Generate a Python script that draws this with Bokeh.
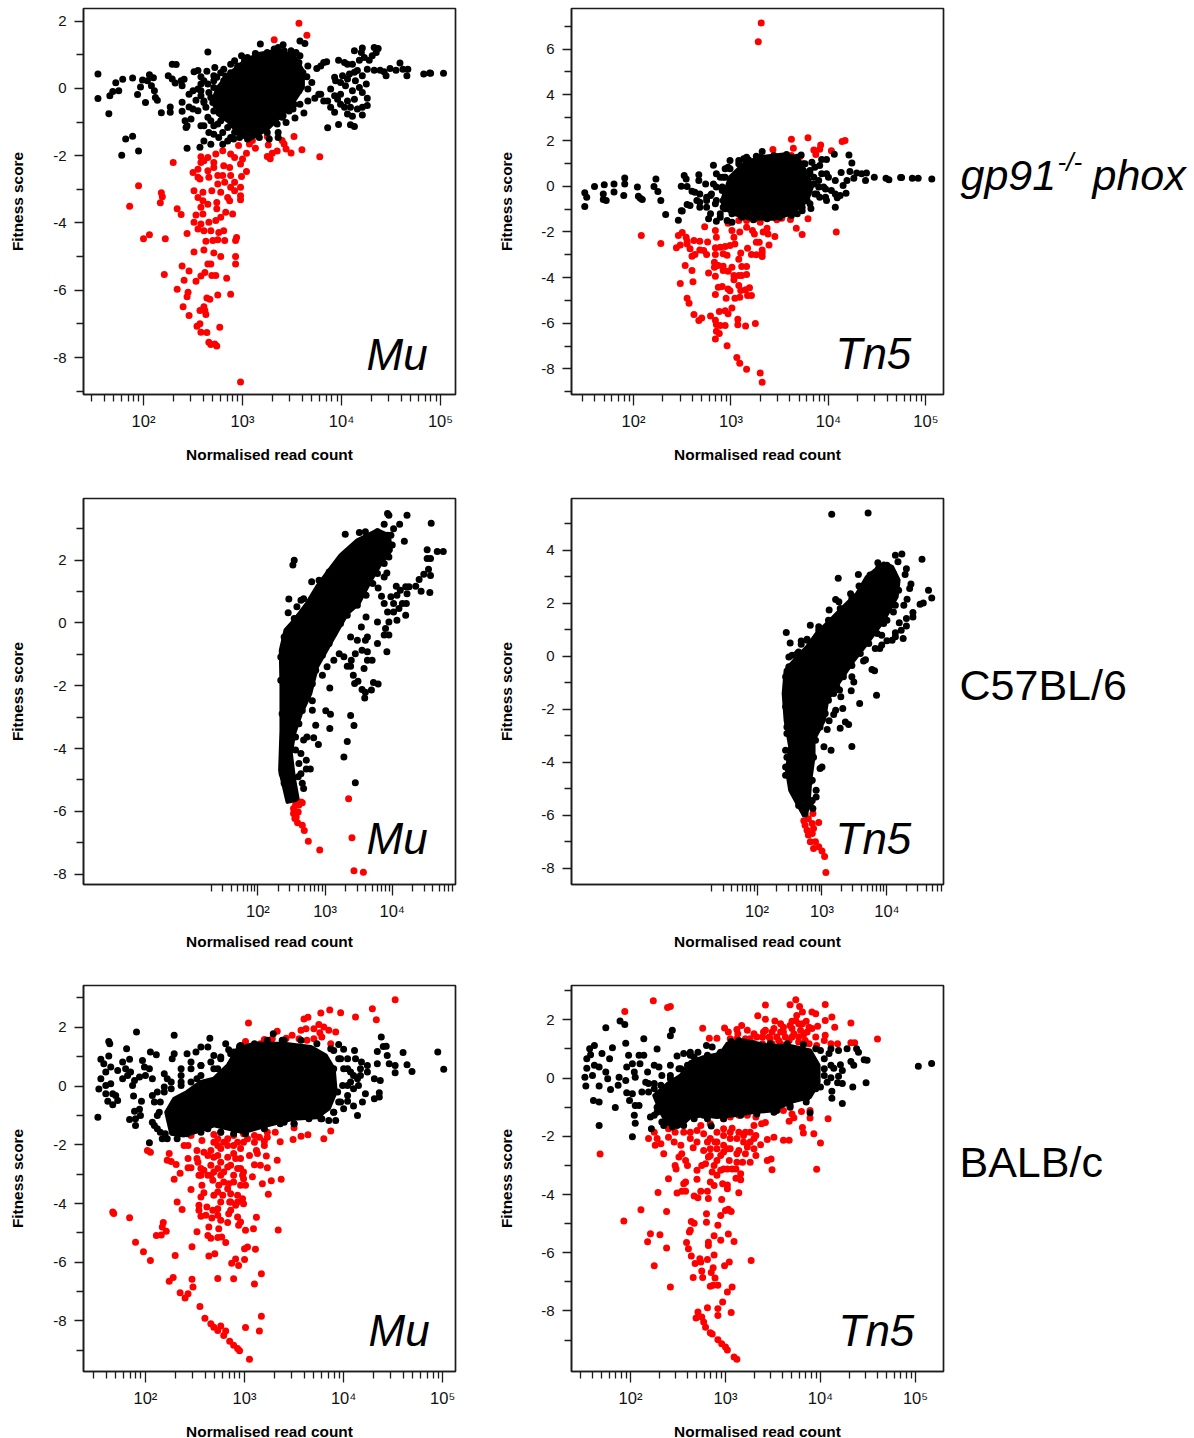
from bokeh.plotting import figure
from bokeh.layouts import column, row
from bokeh.models import FixedTicker, Label, Range1d
from bokeh.embed import file_html
from bokeh.resources import INLINE

# Every pair is (log10 normalised read count, fitness score).
# *_core is the outline of the saturated part of each cloud; *_edge are points along its rim.
gp91_mu_core = [(2.70,-.37),(2.75,.03),(2.85,.38),(2.98,.72),(3.15,1.02),(3.35,1.12),(3.52,.97),(3.61,.52),(3.61,.03),(3.52,-.37),(3.39,-.81),(3.25,-1.21),(3.08,-1.5),(2.98,-1.41),(2.85,-.96),(2.75,-.76)]
gp91_mu_edge = [(2.75,-.47),(2.78,-.07),(2.81,.23),(2.88,.47),(2.95,.67),(3.05,.92),(3.13,1.04),(3.25,1.07),(3.32,1.17),(3.42,1.12),(3.49,.97),(3.57,.77),(3.61,.47),(3.57,-.07),(3.52,-.47),(3.47,-.67),(3.4,-.86),(3.35,-1.06),(3.25,-1.31),(3.17,-1.46),(3.05,-1.5),(2.97,-1.46),(2.92,-1.31),(2.85,-1.16),(2.78,-.96),(2.71,-.67),(2.7,-.42),(2.66,-.12),(2.71,.23),(2.78,.47),(2.83,.37),(2.92,.82),(3.02,.82),(2.65,-.86),(2.75,-1.06),(2.8,-1.31),(2.88,-1.46),(2.61,-.42),(2.58,-.07),(2.65,.13),(2.71,.38)]
gp91_mu_black = [(1.54,.43),(1.54,-.30),(1.65,-.75),(1.66,-.22),(1.69,-.09),(1.72,.17),(1.75,-.07),(1.79,.27),(1.89,.31),(1.94,-.18),(1.97,.04),(1.99,.25),(2.02,-.42),(2.06,.41),(2.04,.23),(2.10,.32),(2.08,.08),(2.11,-.07),(2.12,-.27),(2.14,-.35),(2.18,-.72),(2.27,-.71),(2.27,-.55),(2.25,.38),(2.29,.28),(2.32,.16),(2.29,.72),(2.33,.71),(2.38,.23),(2.41,.27),(2.39,.08),(2.39,-.41),(2.39,-.68),(2.46,-.55),(2.46,-.17),(2.51,.5),(2.55,.53),(2.58,.35),(2.64,.51),(2.61,.23),(2.58,.13),(2.5,-.07),(2.55,-.02),(2.58,-.22),(2.53,-.35),(2.61,-.37),(2.63,-.56),(2.55,-.66),(2.5,-.61),(2.42,-.96),(2.44,-1.11),(2.48,-.91),(2.43,-1.16),(2.65,1.08),(2.72,.62),(2.68,-.96),(2.61,-1.11),(2.58,-1.11),(2.71,-1.11),(2.66,-1.31),(2.71,-1.36),(2.61,-1.56),(2.57,-1.75),(2.44,-1.78),(2.68,-1.66),(2.8,-1.66),(2.85,-1.56),(2.91,-1.5),(2.76,-1.46),(2.88,.72),(2.99,.97),(2.81,.57),(2.74,.33),(2.71,.03),(2.68,-.27),(3.18,1.32),(3.41,1.3),(3.36,1.22),(3.49,1.12),(3.54,1.07),(3.58,.97),(3.58,1.41),(3.63,1.34),(3.66,.67),(3.65,.35),(3.7,.18),(3.66,-.02),(3.66,-.37),(3.62,-.73),(3.53,-.88),(3.44,-1.01),(3.41,-.81),(3.51,-.61),(3.58,-.47),(3.36,-1.31),(3.27,-1.5),(3.36,-1.46),(3.73,-.29),(3.77,-.17),(3.75,.59),(3.79,.67),(3.82,.77),(3.85,.79),(3.97,.84),(4.03,.77),(4.06,.72),(4.11,.72),(4.13,1.12),(4.21,1.2),(4.2,1.07),(4.18,.84),(4.23,.92),(4.28,.84),(4.33,1.22),(4.37,1.19),(4.35,1.07),(4.31,.97),(4.26,.57),(4.33,.54),(4.39,.54),(4.43,.5),(4.45,.38),(4.49,.59),(4.55,.54),(4.59,.76),(4.62,.57),(4.67,.57),(4.66,.38),(4.83,.43),(4.89,.46),(4.9,.45),(5.03,.45),(3.93,.33),(3.94,.23),(4.01,.38),(3.99,.18),(4.08,.43),(4.13,.48),(4.06,.28),(4.04,.08),(4.16,.53),(4.14,.23),(4.21,.38),(4.25,.13),(4.18,.03),(4.11,-.07),(3.99,-.17),(3.89,-.02),(3.86,-.37),(3.93,-.22),(3.96,-.32),(4.06,-.37),(4.13,-.32),(4.21,-.12),(4.26,-.29),(4.26,-.51),(4.21,-.56),(4.16,-.61),(4.09,-.56),(4.03,-.56),(3.99,-.47),(3.89,-.56),(3.93,-.71),(4.06,-.76),(4.11,-.83),(4.21,-.79),(4.09,-1.08),(4.13,-1.13),(3.97,-1.07),(3.86,-1.17),(3.82,-.37),(3.79,-.17),(1.82,-1.5),(1.89,-1.42),(1.78,-1.99),(1.95,-1.86)]
gp91_mu_red = [(3.57,1.94),(3.32,1.45),(3.65,1.58),(3.52,-1.43),(3.40,-1.55),(3.42,-1.65),(3.44,-1.8),(3.49,-1.92),(3.6,-1.82),(3.78,-2.03),(3.35,-1.86),(3.3,-1.93),(3.25,-2.02),(3.28,-2.09),(3.25,-1.43),(3.26,-1.68),(3.13,-1.78),(3.07,-1.65),(3.1,-1.55),(2.3,-2.2),(1.95,-2.89),(1.86,-3.5),(2.18,-3.1),(2.19,-3.22),(2.17,-3.4),(2.34,-3.58),(2.38,-3.75),(2.06,-4.35),(2.0,-4.47),(2.22,-4.47),(2.44,-4.31),(2.51,-4.86),(2.21,-5.53),(2.39,-5.28),(2.46,-5.43),(2.41,-5.7),(2.34,-5.97),(2.44,-6.19),(2.45,-6.06),(2.4,-6.49),(2.46,-6.75),(2.53,-5.73),(2.58,-5.58),(2.62,-5.47),(2.65,-5.22),(2.68,-5.22),(2.69,-5.56),(2.73,-5.56),(2.84,-5.64),(2.75,-6.14),(2.88,-6.12),(2.64,-6.23),(2.67,-6.27),(2.61,-6.49),(2.57,-6.6),(2.62,-6.6),(2.63,-6.72),(2.57,-7.0),(2.54,-7.07),(2.58,-7.25),(2.64,-7.26),(2.77,-7.1),(2.66,-7.55),(2.68,-7.61),(2.72,-7.6),(2.74,-7.66),(2.98,-8.73),(2.93,-5),(2.93,-5.22),(2.78,-5),(2.71,-4.89),(2.61,-4.8),(2.94,-4.43),(2.93,-4.52),(2.82,-4.52),(2.75,-4.5),(2.7,-4.52),(2.63,-4.54),(2.76,-4.28),(2.81,-4.23),(2.68,-4.23),(2.61,-4.23),(2.55,-4.18),(2.58,-4.03),(2.66,-3.98),(2.73,-3.93),(2.78,-3.83),(2.51,-3.98),(2.53,-3.76),(2.6,-3.73),(2.58,-3.53),(2.65,-3.44),(2.6,-3.34),(2.55,-3.24),(2.51,-3.04),(2.6,-3.09),(2.69,-3.04),(2.74,-3.39),(2.74,-3.58),(2.83,-3.68),(2.9,-3.73),(2.78,-3.09),(2.85,-3.24),(2.87,-3.34),(2.98,-3.19),(2.98,-3.31),(2.92,-3.04),(2.88,-2.94),(2.98,-2.94),(2.92,-2.79),(2.82,-2.79),(2.75,-2.84),(2.75,-2.59),(2.8,-2.59),(2.88,-2.59),(2.99,-2.62),(3.04,-2.47),(2.98,-2.25),(3.0,-2.1),(3.04,-1.93),(2.96,-1.7),(2.92,-2.05),(2.87,-2.35),(2.81,-2.3),(2.71,-2.35),(2.65,-2.45),(2.66,-2.64),(2.57,-2.69),(2.55,-2.64),(2.5,-2.5),(2.55,-2.4),(2.58,-2.03),(2.61,-2.15),(2.58,-2.2),(2.65,-2.05),(2.71,-2.2),(2.73,-1.95),(2.8,-1.85),(2.88,-1.95)]

gp91_tn5_core = [(2.92,-.48),(2.99,.39),(3.13,.98),(3.3,1.27),(3.54,1.39),(3.68,1.27),(3.78,.54),(3.83,-.04),(3.78,-.63),(3.61,-1.21),(3.44,-1.43),(3.2,-1.43),(3.03,-1.21),(2.92,-.92)]
gp91_tn5_edge = [(2.92,-.63),(2.91,-.04),(2.94,.39),(2.99,.76),(3.08,.98),(3.18,1.15),(3.3,1.27),(3.44,1.34),(3.57,1.39),(3.68,1.27),(3.76,.98),(3.81,.54),(3.85,.1),(3.86,-.34),(3.81,-.77),(3.73,-1.07),(3.62,-1.28),(3.5,-1.36),(3.37,-1.43),(3.23,-1.47),(3.11,-1.36),(3.01,-1.21),(2.94,-.99),(2.89,-1.36),(2.84,-.77),(2.8,-.34),(2.85,-.04),(2.89,.39),(2.75,-.63),(2.99,1.12),(3.13,1.2),(3.9,-.04),(3.93,.54),(3.91,-.48),(3.95,-.04)]
gp91_tn5_black = [(1.5,-.89),(1.5,-.29),(1.52,-.48),(1.6,-.01),(1.7,.06),(1.69,-.34),(1.69,-.58),(1.72,-.63),(1.8,.1),(1.8,-.25),(1.9,-.41),(1.91,.1),(1.91,.36),(2.04,-.04),(2.05,-.44),(2.07,-.53),(2.09,-.58),(2.21,-.01),(2.23,.32),(2.25,-.23),(2.28,-.63),(2.33,-1.24),(2.46,-1.49),(2.49,-1.07),(2.5,-1.09),(2.49,0),(2.52,.47),(2.54,.32),(2.55,-.01),(2.6,-.22),(2.63,-.26),(2.68,-.34),(2.55,-.8),(2.58,-.85),(2.67,.5),(2.67,.25),(2.74,.1),(2.65,-.63),(2.68,-.7),(2.68,-.92),(2.75,-.48),(2.79,-.41),(2.75,-.92),(2.79,-1.21),(2.77,-1.43),(2.85,-1.53),(2.82,.92),(2.85,.54),(2.82,.1),(2.85,-.63),(2.89,-1.21),(2.94,.76),(2.97,.83),(2.92,.39),(2.91,-.19),(2.92,-.92),(2.96,-1.5),(3.01,-1.58),(3.08,1.12),(3.16,1.27),(3.26,1.31),(3.32,1.52),(3.61,-1.21),(3.68,-1.21),(3.73,-.92),(3.82,-.98),(3.78,-.63),(3.9,.25),(3.72,1.37),(3.74,.98),(3.83,1.05),(3.81,.69),(3.86,.83),(3.85,.39),(3.91,.91),(3.93,1.17),(3.98,1.17),(4.06,1.4),(3.98,.54),(4.0,.39),(4.07,.25),(4.13,.6),(3.88,-.34),(3.97,-.12),(3.97,-.48),(3.98,-.63),(4.03,-.19),(4.07,-.34),(4.09,-.51),(4.07,-.92),(4.12,-.41),(4.18,-.31),(4.15,.03),(4.19,.25),(4.21,1.37),(4.24,1.02),(4.22,.64),(4.26,.35),(4.29,.58),(4.34,.54),(4.39,.58),(4.38,.25),(4.47,.39),(4.59,.35),(4.62,.28),(4.74,.38),(4.75,.38),(4.86,.35),(4.92,.35),(5.06,.31)]
gp91_tn5_red = [(3.31,7.15),(3.28,6.32),(3.43,1.61),(3.62,2.06),(3.79,2.12),(3.64,1.66),(3.85,1.58),(3.87,1.39),(3.91,1.62),(3.92,1.8),(4.03,1.55),(4.14,1.96),(4.17,2.0),(3.62,1.34),(3.71,1.3),(2.08,-2.16),(2.28,-2.51),(4.08,-2.0),(3.73,-2.12),(3.67,-1.84),(3.79,-1.42),(3.61,-1.46),(3.52,-1.4),(3.47,-1.47),(3.45,-2.2),(3.37,-1.84),(3.38,-2.09),(3.33,-2.01),(3.29,-2.45),(3.26,-2.45),(3.39,-2.58),(3.32,-2.79),(3.32,-2.93),(3.32,-3.08),(3.26,-3.0),(3.21,-2.99),(3.17,-2.72),(3.1,-2.93),(3.08,-3.2),(3.24,-2.09),(3.22,-1.94),(3.16,-1.8),(3.09,-2.01),(3.03,-2.23),(3.01,-1.94),(2.97,-1.62),(3.08,-1.5),(3.16,-1.5),(3.25,-1.43),(3.3,-1.58),(3.04,-2.53),(2.99,-2.6),(2.94,-2.64),(2.89,-2.67),(2.84,-2.7),(2.85,-2.23),(2.84,-1.94),(2.73,-1.78),(2.76,-2.44),(2.68,-2.79),(2.75,-2.99),(2.84,-2.99),(2.92,-2.96),(2.96,-3.02),(2.68,-2.41),(2.62,-2.38),(2.55,-2.41),(2.5,-2.03),(2.46,-2.16),(2.54,-2.23),(2.55,-2.53),(2.58,-2.74),(2.44,-2.7),(2.48,-2.57),(2.6,-3.07),(2.63,-2.99),(2.72,-2.82),(2.53,-3.47),(2.6,-3.69),(2.48,-4.26),(2.61,-4.18),(2.55,-4.91),(2.57,-5.12),(2.62,-5.62),(2.67,-5.88),(2.7,-5.77),(2.79,-5.68),(2.84,-5.87),(2.85,-6.06),(2.89,-6.1),(2.94,-6.1),(2.88,-6.45),(2.85,-6.35),(2.84,-6.69),(2.96,-6.99),(3.06,-7.5),(3.09,-7.75),(3.16,-8.01),(3.3,-8.18),(3.32,-8.58),(3.25,-6.01),(3.15,-6.12),(3.07,-6.07),(3.07,-5.82),(2.88,-5.49),(2.94,-5.45),(2.97,-5.59),(3.01,-5.33),(2.84,-4.74),(2.95,-4.91),(2.87,-4.42),(2.91,-4.39),(2.97,-4.5),(2.99,-4.58),(3.04,-4.91),(3.09,-4.86),(3.1,-4.57),(3.15,-4.53),(3.19,-4.45),(3.17,-4.79),(3.21,-4.79),(3.08,-4.35),(2.77,-3.8),(2.84,-3.94),(2.83,-3.33),(2.83,-3.55),(2.87,-3.47),(2.92,-3.5),(2.92,-3.69),(2.97,-3.72),(3.01,-3.55),(3.03,-3.91),(3.03,-4.1),(3.08,-3.91),(3.11,-3.52),(3.16,-3.52),(3.16,-3.87),(3.11,-3.91)]

c57_mu_core = [(2.44,-5.7),(2.33,-4.69),(2.35,-3.42),(2.35,-2.04),(2.34,-.87),(2.41,-.23),(2.54,.08),(2.73,.62),(2.88,1.15),(3.06,1.68),(3.23,2.15),(3.48,2.63),(3.78,2.95),(3.95,2.79),(3.98,2.31),(3.83,1.89),(3.68,1.36),(3.5,.62),(3.33,.3),(3.13,-.45),(2.88,-1.4),(2.78,-2.25),(2.64,-2.89),(2.54,-3.52),(2.49,-4.16),(2.54,-5.0),(2.59,-5.59),(2.56,-5.64)]
c57_mu_edge = [(2.36,-2.89),(2.34,-1.83),(2.34,-1.09),(2.39,-.45),(2.49,-.13),(2.61,.19),(2.73,.45),(2.86,.83),(2.96,1.2),(3.08,1.52),(3.2,1.89),(3.33,2.26),(3.48,2.53),(3.63,2.74),(3.78,2.9),(3.93,2.79),(4.0,2.48),(3.95,2.1),(3.88,1.89),(3.78,1.57),(3.71,1.25),(3.61,.88),(3.48,.56),(3.33,.24),(3.23,-.02),(3.13,-.34),(3.06,-.66),(2.96,-1.03),(2.86,-1.51),(2.81,-1.94),(2.73,-2.36),(2.66,-2.79),(2.61,-3.21),(2.56,-3.63),(2.46,-4.48),(2.36,-4.8),(2.39,-5.11),(2.46,-5.54)]
c57_mu_black = [(3.3,2.82),(3.51,2.88),(3.6,2.9),(3.93,3.48),(3.95,3.43),(4.22,3.43),(3.88,3.14),(4.11,3.14),(4.02,3.0),(3.98,2.79),(4.18,2.6),(4.58,3.17),(4.52,2.33),(4.52,2.05),(4.57,2.05),(4.67,2.27),(4.76,2.27),(4.54,1.71),(4.47,1.55),(4.57,1.51),(4.4,1.38),(4.43,1.01),(4.56,.97),(4.35,1.17),(4.25,1.15),(4.2,1.15),(4.12,1.04),(4.22,.93),(4.06,1.17),(3.98,.83),(3.84,.85),(3.79,1.11),(3.92,1.59),(3.88,1.46),(4.07,.88),(4.02,.62),(4.15,.62),(4.21,.62),(3.88,.62),(3.93,.35),(4.02,.35),(4.1,.46),(4.2,.24),(4.07,.08),(3.95,.03),(3.78,.03),(3.9,-.18),(3.88,-.39),(3.95,-.39),(3.78,-.66),(3.92,-.92),(3.61,.19),(3.54,-.13),(3.38,-.45),(3.48,-.55),(3.63,-.45),(3.6,-.55),(3.55,-.87),(3.45,-.98),(3.63,-.92),(3.63,-1.19),(3.7,-1.19),(3.58,-1.45),(3.42,-1.67),(3.49,-1.86),(3.44,-1.93),(3.55,-2.12),(3.6,-2.21),(3.59,-2.39),(3.69,-2.14),(3.72,-1.9),(3.79,-1.95),(3.39,-1.19),(3.33,-1.38),(3.38,-1.38),(3.21,-.98),(3.28,-1.08),(3.13,-1.19),(3.03,-1.4),(2.96,-1.67),(3.07,-2.07),(3.01,-2.8),(3.08,-2.91),(3.07,-3.36),(2.86,-3.26),(3.38,-2.95),(3.43,-3.27),(3.33,-3.78),(3.28,-4.27),(3.45,-5.09),(2.9,-3.87),(2.83,-3.66),(2.73,-3.63),(2.68,-3.73),(2.81,-2.78),(2.81,-2.48),(2.72,-4.37),(2.78,-4.65),(2.72,-4.65),(2.64,-4.8),(2.6,-4.9),(2.66,-5.11),(2.68,-5.27),(2.64,-4.16),(2.56,-4.05),(2.61,-4.48),(2.54,1.99),(2.52,1.84),(2.46,.76),(2.45,.32),(2.54,.14),(2.58,.51),(2.64,.72),(2.68,.77),(2.8,1.31),(2.91,1.36),(3.06,1.62)]
c57_mu_red = [(3.35,-5.6),(3.4,-6.84),(3.43,-7.89),(3.57,-7.94),(2.92,-7.23),(2.75,-6.95),(2.69,-6.61),(2.66,-6.44),(2.59,-6.36),(2.57,-6.18),(2.53,-6.07),(2.6,-6.02),(2.64,-5.7),(2.58,-5.73),(2.53,-5.91),(2.56,-5.8),(2.61,-5.8),(2.66,-5.73),(2.55,-6.23)]

c57_tn5_core = [(2.72,-6.0),(2.51,-5.06),(2.46,-4.3),(2.51,-3.42),(2.44,-2.42),(2.41,-1.41),(2.44,-.53),(2.62,-.03),(2.77,.35),(2.92,.86),(3.13,1.36),(3.33,1.86),(3.54,2.36),(3.69,2.99),(3.95,3.5),(4.08,3.37),(4.18,2.87),(4.15,2.24),(3.95,1.36),(3.69,.48),(3.49,-.15),(3.28,-.91),(3.08,-1.66),(3.03,-2.42),(2.87,-3.17),(2.87,-3.8),(2.82,-4.68),(2.79,-5.69),(2.74,-6.0)]
c57_tn5_edge = [(2.44,-.78),(2.44,-1.91),(2.46,-2.67),(2.54,-3.3),(2.46,-3.81),(2.49,-4.43),(2.56,-5.06),(2.64,-5.63),(2.74,-5.95),(2.85,-5.45),(2.82,-4.73),(2.87,-3.81),(2.9,-3.17),(2.97,-2.67),(3.05,-2.16),(3.1,-1.66),(3.23,-1.16),(3.33,-.78),(3.46,-.35),(3.59,.1),(3.72,.48),(3.85,.86),(4.0,1.36),(4.13,1.92),(4.18,2.49),(4.1,3.12),(4.0,3.43),(3.87,3.31),(3.74,3.06),(3.61,2.62),(3.46,2.18),(3.28,1.8),(3.1,1.36),(2.95,.98),(2.77,.6),(2.62,.1),(2.49,-.4)]
c57_tn5_black = [(3.15,5.36),(3.71,5.4),(4.13,3.81),(4.23,3.86),(4.54,3.66),(3.86,3.53),(4.17,3.56),(4.3,3.3),(4.28,3.08),(3.56,3.08),(3.25,2.94),(3.57,2.65),(4.37,2.72),(4.35,2.55),(4.64,2.49),(4.69,2.2),(4.56,2.01),(4.51,1.96),(4.31,2.15),(4.26,1.92),(4.4,1.65),(4.4,1.48),(4.3,1.42),(4.19,1.26),(4.3,1.14),(4.22,.98),(4.25,.67),(4.13,.73),(4.08,.6),(4.0,.58),(4.13,.88),(4.1,1.67),(3.95,1.23),(3.92,.79),(3.89,.29),(3.92,.42),(3.82,.29),(3.64,-.18),(3.67,-.13),(3.77,-.5),(3.81,-.55),(3.84,-1.47),(3.58,-1.79),(3.46,-.78),(3.49,-.97),(3.45,-1.3),(3.33,-.62),(3.27,-1.28),(3.29,-1.53),(3.18,-1.41),(3.21,-2.04),(3.18,-2.2),(3.32,-1.97),(3.36,-2.48),(3.41,-2.58),(3.28,-2.72),(3.46,-3.41),(3.14,-3.55),(3.03,-3.42),(3.11,-2.44),(3.08,-2.77),(3.0,-4.18),(2.97,-4.24),(2.91,-5.06),(2.91,-5.31),(2.85,-4.68),(2.82,-5.56),(2.86,-5.75),(2.45,.89),(2.51,.5),(2.68,.57),(2.68,.45),(2.77,.64),(2.82,1.17),(2.95,1.11),(3.11,1.74),(3.21,2.14),(3.26,2.05),(3.44,2.36),(2.49,-.03),(2.54,.04),(2.64,.16),(2.46,-2.92),(2.44,-3.55),(2.44,-4.18),(2.44,-4.49)]
c57_tn5_red = [(2.86,-5.94),(2.72,-6.21),(2.74,-6.38),(2.79,-6.13),(2.95,-6.28),(2.85,-6.31),(2.77,-6.57),(2.87,-6.5),(2.79,-6.75),(2.85,-6.69),(2.82,-7.0),(2.9,-7.0),(2.87,-7.26),(2.95,-7.19),(3.0,-7.35),(3.04,-7.56),(3.06,-8.16)]

balb_mu_core = [(2.21,-.89),(2.29,-.43),(2.42,-.2),(2.56,.14),(2.69,.25),(2.83,.7),(2.93,1.27),(3.1,1.44),(3.4,1.44),(3.67,1.33),(3.82,1.04),(3.9,.59),(3.92,-.2),(3.85,-.77),(3.73,-1.06),(3.5,-1.11),(3.23,-1.34),(2.99,-1.57),(2.83,-1.45),(2.69,-1.34),(2.56,-1.51),(2.39,-1.68),(2.26,-1.62)]
balb_mu_edge = [(2.15,-.54),(2.12,-1.0),(2.09,-1.34),(2.15,-1.57),(2.22,-1.79),(2.32,-1.79),(2.42,-1.62),(2.52,-1.45),(2.63,-1.45),(2.76,-1.57),(2.89,-1.62),(3.01,-1.62),(3.2,-1.45),(3.36,-1.28),(3.5,-1.28),(3.65,-1.11),(3.77,-1.11),(3.9,-.89),(3.95,-.54),(3.99,.02),(4.0,.59),(3.95,.93),(3.87,1.27),(3.73,1.44),(3.57,1.56),(3.4,1.56),(3.23,1.56),(3.1,1.44),(2.96,1.38),(2.86,1.1),(2.76,.99),(2.66,.82),(2.56,.7),(2.46,.59),(2.36,.36),(2.26,.14),(2.19,-.2),(2.36,.02),(2.46,.14),(2.56,.36),(2.69,.59),(4.07,.14),(4.1,.36),(4.04,.59),(4.04,.93),(4.17,.59),(4.14,.25),(4.04,-.32),(4.0,-.77)]
balb_mu_black = [(1.52,-1.06),(1.53,-.1),(1.55,.91),(1.63,1.52),(1.64,1.44),(1.91,1.84),(1.81,1.27),(1.58,.76),(1.63,1.02),(1.6,.48),(1.65,.65),(1.72,.53),(1.55,.25),(1.6,.02),(1.65,.08),(1.6,-.26),(1.67,-.26),(1.7,-.32),(1.62,-.52),(1.67,-.64),(1.72,-.49),(1.77,.82),(1.84,.91),(1.8,.59),(1.85,.48),(1.77,.25),(1.82,.36),(1.89,.19),(1.94,.31),(1.87,.02),(1.97,.87),(1.99,.65),(2.04,.59),(2.0,.36),(2.05,1.16),(2.11,1.07),(2.07,.25),(1.88,-.34),(1.96,-.52),(1.89,-.86),(1.94,-.79),(1.84,-1.14),(1.9,-1.11),(1.9,-1.34),(1.95,-1.0),(2.04,-1.93),(2.07,-.32),(2.12,-.2),(2.09,-.54),(2.14,-.89),(2.07,-1.23),(2.12,-1.45),(2.17,-1.79),(2.19,.42),(2.22,.25),(2.26,-.09),(2.19,-.03),(2.27,.93),(2.29,1.73),(2.29,1.1),(2.42,1.1),(2.51,1.16),(2.56,1.33),(2.65,1.63),(2.63,1.33),(2.81,1.44),(2.84,1.24),(2.95,1.36),(2.36,.59),(2.46,.82),(2.56,.7),(2.69,1.04),(2.76,.93),(2.36,.14),(2.52,.25),(2.61,-.09),(2.73,.59),(2.89,1.16),(3.29,1.78),(3.38,1.56),(2.56,-1.57),(2.2,-1.62),(3.9,.59),(3.97,.93),(3.95,1.42),(4.0,1.25),(4.11,1.21),(4.38,1.67),(4.4,1.35),(4.43,1.36),(4.34,1.18),(4.44,1.04),(4.12,.93),(4.18,.82),(4.24,.7),(4.34,.76),(4.46,.76),(4.52,.7),(4.52,.45),(4.6,1.14),(4.64,.73),(4.69,.5),(4.95,1.16),(5.01,.57),(4.07,.48),(4.17,.36),(4.24,.48),(4.31,.25),(4.37,.19),(4.04,.02),(4.1,-.09),(4.15,.02),(4.22,-.26),(4.31,-.43),(4.36,-.37),(4.36,-.23),(4.04,-.52),(4.1,-.68),(4.19,-.54),(4.14,-1.0),(3.92,-1.17),(3.85,-1.17),(3.78,-1.11),(3.9,-.89),(3.97,-.54),(3.94,-.2),(3.77,-.89),(3.5,-1.28),(3.4,-1.23),(3.9,1.21)]
balb_mu_red = [(3.04,2.15),(3.01,1.52),(4.52,2.94),(4.29,2.63),(4.33,2.26),(4.12,2.35),(3.97,2.5),(3.86,2.59),(3.77,2.49),(3.64,2.34),(3.6,2.28),(3.75,2.1),(3.7,1.95),(3.62,1.95),(3.57,1.9),(3.8,2.01),(3.85,1.9),(3.92,1.84),(3.76,1.82),(3.33,1.87),(3.48,1.73),(3.42,1.63),(3.28,1.61),(3.2,1.59),(3.55,1.61),(3.63,1.56),(3.7,1.61),(3.78,1.67),(3.87,1.44),(3.16,1.44),(3.5,-1.42),(3.87,-1.53),(3.8,-1.79),(3.64,-1.66),(3.57,-1.71),(3.49,-1.82),(3.36,-1.9),(3.31,-1.57),(3.23,-1.57),(3.33,-2.53),(3.22,-2.38),(3.23,-2.78),(3.16,-2.7),(3.1,-2.68),(3.37,-3.17),(3.27,-3.22),(3.18,-3.33),(3.24,-3.68),(3.08,-3.09),(3.12,-2.19),(3.2,-1.88),(3.1,-1.91),(3.03,-1.79),(3.15,-1.74),(2.99,-1.62),(2.89,-1.68),(2.76,-1.57),(2.02,-2.19),(2.05,-2.25),(2.24,-2.3),(2.22,-2.53),(2.26,-2.57),(2.31,-2.67),(2.35,-2.97),(2.29,-3.17),(2.43,-2.47),(2.43,-2.78),(2.46,-2.78),(2.52,-2.47),(2.53,-2.59),(2.46,-3.52),(2.39,-2.02),(2.43,-2.02),(2.46,-1.68),(2.57,-1.85),(2.69,-1.65),(2.52,-2.19),(2.59,-2.25),(2.66,-2.19),(2.73,-2.02),(2.79,-1.91),(2.89,-2.02),(2.96,-2.13),(2.73,-2.36),(2.83,-2.42),(2.91,-2.47),(2.66,-2.7),(2.56,-2.81),(2.73,-2.81),(2.83,-2.76),(2.96,-2.81),(2.54,-3.04),(2.63,-3.04),(2.68,-3.21),(2.76,-3.04),(2.89,-3.04),(2.99,-2.93),(2.99,-3.16),(2.96,-3.38),(2.57,-3.38),(2.74,-3.38),(2.84,-3.33),(2.69,-3.72),(2.78,-3.72),(2.86,-3.67),(2.93,-3.72),(2.56,-3.78),(2.59,-3.63),(2.32,-3.95),(2.37,-4.2),(2.54,-4.06),(2.54,-4.23),(2.56,-4.43),(2.61,-4.4),(2.62,-4.12),(2.68,-4.23),(2.67,-4.49),(2.73,-4.18),(2.76,-4.57),(2.84,-4.35),(2.85,-3.95),(2.91,-4.06),(2.99,-4.01),(2.93,-4.46),(2.94,-4.74),(2.83,-4.65),(3.12,-4.47),(3.09,-4.86),(3.34,-4.9),(3.01,-4.91),(1.67,-4.29),(1.68,-4.34),(1.84,-4.48),(2.18,-4.65),(2.17,-4.8),(2.21,-4.94),(2.11,-5.09),(2.16,-5.07),(1.9,-5.32),(1.98,-5.64),(2.05,-5.94),(2.3,-5.77),(2.47,-5.47),(2.52,-4.96),(2.64,-4.8),(2.63,-5.09),(2.66,-5.18),(2.73,-5.16),(2.77,-5.14),(2.81,-5.33),(2.74,-4.86),(2.64,-5.79),(2.7,-5.71),(3.0,-5.54),(3.03,-5.48),(3.11,-5.56),(2.87,-6.03),(2.91,-5.89),(3.0,-5.91),(2.94,-6.11),(2.73,-6.55),(2.89,-6.56),(3.17,-6.39),(3.1,-6.74),(2.24,-6.65),(2.28,-6.52),(2.47,-6.58),(2.48,-6.84),(2.35,-7.04),(2.43,-7.07),(2.4,-7.22),(2.55,-7.51),(2.6,-7.91),(3.17,-7.84),(3.15,-8.34),(3.01,-8.22),(2.66,-8.09),(2.69,-8.21),(2.73,-8.32),(2.76,-8.17),(2.79,-8.49),(2.81,-8.34),(2.85,-8.69),(2.89,-8.83),(2.93,-8.94),(2.95,-9.01),(3.05,-9.3),(2.69,-1.91),(2.76,-2.13),(2.83,-2.02),(2.89,-2.3),(2.96,-2.47),(2.69,-2.42),(2.76,-2.59),(2.86,-2.7),(2.93,-2.81),(2.79,-2.93),(2.69,-2.93),(2.89,-3.27),(2.83,-3.5),(2.73,-3.61),(2.76,-3.95),(2.86,-3.95),(2.93,-3.95),(2.98,-3.84),(2.73,-4.4),(2.86,-4.23),(2.96,-4.63),(2.56,-3.04),(2.59,-2.87),(3.05,-2.36),(3.13,-2.3),(3.2,-2.02),(3.23,-1.74),(3.1,-1.68),(2.93,-1.91),(2.99,-1.91),(2.83,-1.79),(2.73,-1.79),(2.63,-2.36),(2.66,-3.04),(2.79,-3.27),(2.98,-3.04),(3.01,-3.38)]

balb_tn5_core = [(2.25,-.6),(2.39,-.2),(2.53,.09),(2.63,.55),(2.77,.72),(2.95,.84),(3.02,1.18),(3.19,1.29),(3.44,1.12),(3.68,1.1),(3.89,.95),(3.98,.44),(3.98,-.14),(3.89,-.65),(3.68,-.82),(3.51,-1.11),(3.3,-1.17),(3.09,-1.28),(2.91,-1.34),(2.77,-1.28),(2.63,-1.34),(2.53,-1.63),(2.39,-1.57),(2.32,-1.17)]
balb_tn5_edge = [(2.19,-.48),(2.25,-.19),(2.28,-1.17),(2.33,-1.51),(2.44,-1.68),(2.56,-1.63),(2.67,-1.4),(2.81,-1.4),(2.98,-1.4),(3.16,-1.28),(3.33,-1.23),(3.51,-1.17),(3.68,-.94),(3.86,-.65),(3.95,-.37),(4.04,.09),(4.04,.66),(3.95,1.01),(3.82,1.15),(3.65,1.18),(3.47,1.18),(3.3,1.18),(3.14,1.29),(3.04,1.12),(2.95,.89),(2.81,.78),(2.67,.72),(2.6,.44),(2.51,.32),(2.42,-.02),(2.32,-.25),(2.25,-.37),(2.63,.89)]
balb_tn5_black = [(1.52,.03),(1.53,-.27),(1.54,.66),(1.54,.34),(1.57,1.01),(1.62,1.12),(1.58,.8),(1.62,.44),(1.67,.38),(1.6,.09),(1.67,-.27),(1.61,-.77),(1.67,-.82),(1.67,-1.63),(1.84,-1.01),(1.74,1.73),(1.89,1.96),(1.94,1.84),(1.95,1.2),(1.81,1.04),(1.7,.84),(1.78,.66),(1.76,-.02),(1.74,.21),(1.79,-.39),(1.88,.03),(1.87,-.25),(1.95,-.08),(1.98,.78),(2.02,.49),(1.96,.38),(2.04,.21),(2.05,.03),(1.96,-.5),(2.02,-.54),(1.99,-.77),(2.05,-.94),(2.09,-.94),(2.04,-1.28),(2.05,-1.55),(2.02,-2.02),(2.09,.78),(2.14,.78),(2.14,1.35),(2.1,.49),(2.18,.21),(2.16,-.14),(2.12,-.48),(2.19,-.19),(2.25,.44),(2.3,.38),(2.28,1.0),(2.33,.09),(2.42,.44),(2.49,.76),(2.56,.84),(2.63,.78),(2.71,.89),(2.8,1.12),(2.86,1.07),(2.94,.84),(3.06,1.26),(2.44,1.64),(2.42,1.45),(2.42,.09),(2.53,.32),(2.21,-1.34),(2.25,-1.28),(2.22,-1.74),(2.28,-1.0),(2.35,-1.63),(2.39,-1.4),(2.49,-1.63),(2.85,-1.65),(2.77,-1.28),(4.0,.95),(4.09,.84),(4.11,1.01),(4.19,.95),(4.28,1.01),(4.38,1.01),(4.4,.89),(4.32,.57),(4.35,.44),(4.46,.63),(4.49,.61),(4.21,.46),(4.23,.26),(4.19,.06),(4.18,-.16),(4.23,-.19),(4.34,-.31),(4.48,-.16),(4.11,.01),(4.04,.32),(4.11,.44),(4.14,.34),(4.0,-.31),(4.07,-.14),(4.12,-.45),(4.12,-.69),(4.23,-.87),(3.85,-.82),(3.89,-1.19),(3.67,-.88),(3.54,-1.11),(3.68,-1.0),(5.03,.41),(5.17,.5)]
balb_tn5_red = [(1.94,2.29),(2.24,2.66),(2.39,2.42),(2.42,2.46),(2.76,1.71),(2.83,1.37),(2.91,1.37),(2.99,1.72),(3.03,1.58),(3.12,1.67),(3.17,1.81),(3.13,1.52),(3.05,1.35),(3.12,1.35),(3.21,1.35),(3.23,1.64),(3.3,1.52),(3.34,2.14),(3.42,2.51),(3.42,2.02),(3.52,1.96),(3.58,1.87),(3.61,1.75),(3.42,1.64),(3.49,1.58),(3.58,1.58),(3.39,1.41),(3.47,1.35),(3.54,1.41),(3.63,1.41),(3.7,1.41),(3.68,2.52),(3.74,2.69),(3.78,2.46),(3.81,2.27),(3.75,2.15),(3.7,1.95),(3.77,1.87),(3.85,1.95),(3.7,1.7),(3.79,1.64),(3.86,1.58),(3.77,1.41),(3.84,1.29),(3.91,1.7),(3.97,1.78),(3.91,2.27),(3.95,2.21),(4.05,2.53),(4.05,1.98),(4.12,2.1),(4.15,1.75),(4.05,1.47),(4.04,1.29),(4.11,1.18),(4.18,1.18),(4.32,1.89),(4.32,1.21),(4.36,1.21),(4.6,1.34),(3.96,1.12),(4.08,-1.4),(4.0,-2.23),(3.96,-3.13),(3.93,-1.91),(3.82,-1.89),(3.81,-1.7),(3.8,-1.15),(3.89,-1.11),(3.89,-1.37),(3.72,-1.36),(3.67,-1.48),(3.7,-1.23),(3.61,-1.11),(3.61,-2.14),(3.67,-2.14),(3.51,-2.03),(3.44,-2.11),(3.49,-3.15),(3.48,-2.78),(3.44,-2.83),(3.42,-1.53),(3.38,-1.57),(3.37,-2.29),(3.32,-1.97),(3.32,-2.66),(3.26,-2.89),(3.32,-1.34),(3.23,-1.28),(3.14,-1.28),(3.05,-1.34),(2.98,-1.4),(3.3,-1.63),(3.21,-1.86),(3.14,-1.86),(3.07,-1.72),(2.98,-1.74),(2.91,-1.86),(2.84,-1.57),(2.74,-1.63),(2.77,-1.91),(2.7,-1.8),(2.63,-1.86),(2.56,-1.86),(2.47,-1.86),(2.4,-1.74),(2.25,-1.86),(2.19,-2.08),(2.28,-2.08),(2.26,-2.31),(2.32,-2.26),(2.35,-2.6),(1.68,-2.61),(2.4,-2.03),(2.46,-2.2),(2.53,-2.31),(2.54,-2.6),(2.51,-2.71),(2.63,-2.08),(2.66,-2.39),(2.58,-2.83),(2.6,-3.0),(2.47,-3.0),(2.48,-3.12),(2.77,-2.49),(2.84,-2.43),(2.82,-2.71),(2.91,-2.43),(2.98,-2.54),(3.05,-2.43),(3.14,-2.49),(3.21,-2.6),(3.26,-2.2),(3.19,-2.2),(3.05,-2.08),(2.98,-2.31),(2.89,-2.2),(2.79,-2.94),(2.91,-2.83),(3.04,-2.83),(3.12,-2.89),(3.18,-2.89),(2.7,-3.17),(2.75,-3.0),(2.86,-3.23),(2.95,-3.17),(3.02,-3.12),(3.11,-3.12),(3.11,-3.44),(3.16,-3.29),(3.16,-3.49),(2.91,-3.34),(2.4,-3.46),(2.7,-3.48),(2.58,-3.57),(2.56,-3.63),(2.84,-3.57),(2.88,-3.69),(2.97,-3.63),(3.02,-3.8),(3.02,-3.67),(3.14,-3.94),(2.29,-3.93),(2.49,-3.95),(2.54,-3.89),(2.58,-3.89),(2.67,-4.05),(2.71,-4.11),(2.74,-3.89),(2.81,-3.89),(2.82,-4.14),(2.96,-4.17),(2.11,-4.52),(2.38,-4.58),(1.93,-4.91),(2.8,-4.66),(2.95,-4.72),(3.0,-4.55),(3.03,-4.51),(3.06,-4.58),(2.64,-4.93),(2.67,-4.99),(2.8,-4.95),(2.92,-5.06),(2.63,-5.23),(2.62,-5.29),(2.21,-5.35),(2.31,-5.38),(2.18,-5.62),(2.38,-5.84),(2.25,-6.45),(2.59,-5.65),(2.61,-5.86),(2.64,-6.11),(2.88,-5.42),(2.95,-5.57),(3.03,-5.36),(3.09,-5.61),(2.82,-5.64),(2.82,-5.75),(2.88,-6.08),(2.81,-6.23),(2.73,-6.21),(2.68,-6.37),(2.74,-6.32),(2.75,-6.63),(3.04,-6.32),(2.99,-6.45),(3.27,-6.27),(2.87,-6.52),(2.85,-6.68),(2.76,-6.85),(2.66,-6.85),(2.42,-7.18),(2.89,-6.87),(2.84,-7.15),(2.87,-7.12),(2.92,-7.12),(3.07,-7.18),(3.02,-7.35),(2.97,-7.69),(2.81,-7.89),(2.92,-7.92),(2.92,-8.16),(3.06,-8.05),(2.71,-8.04),(2.69,-8.24),(2.75,-8.21),(2.77,-8.38),(2.79,-8.56),(2.84,-8.75),(2.86,-8.79),(2.92,-8.99),(2.96,-9.13),(3.0,-9.24),(3.02,-9.34),(3.09,-9.58),(3.12,-9.66),(3.4,1.58),(3.46,1.41),(3.51,1.7),(3.56,1.29),(3.61,1.58),(3.67,1.29),(3.72,1.52),(3.77,1.24),(3.82,1.47),(3.88,1.75),(3.68,1.81),(3.74,1.98),(3.81,1.87),(3.58,1.18),(3.49,1.18),(3.39,1.18),(3.88,1.18),(3.95,1.41),(3.33,1.41),(3.26,1.35),(2.98,-1.97),(3.05,-1.86),(3.12,-2.08),(3.19,-1.97),(3.26,-1.86),(3.3,-2.08),(2.91,-2.2),(2.84,-2.08),(3.02,-2.43),(3.12,-2.6),(2.95,-2.66),(2.84,-2.66),(2.88,-3.0),(2.98,-3.12),(3.07,-3.12),(2.81,-2.2),(2.7,-2.2),(3.23,-2.37),(3.3,-2.43)]

x_title = "Normalised read count"
y_title = "Fitness score"
font = "Liberation Sans"
exponent_labels = {100: "10²", 1000: "10³", 10000: "10⁴", 100000: "10⁵"}
ink = "#1c1c1c"


def minor_counts(first, last):
    out = []
    for decade in (10, 100, 1000, 10000, 100000):
        for m in range(2, 10):
            if first <= m * decade <= last:
                out.append(m * decade)
    return out


def panel(core, edge, black, red, log_xlim, ylim, yticks, first, last, left, top, bottom, tag, tag_x, tag_y, x_standoff, y_standoff):
    p = figure(x_axis_type="log", x_range=Range1d(10 ** log_xlim[0], 10 ** log_xlim[1]),
               y_range=Range1d(*ylim), frame_width=372, frame_height=386,
               min_border_left=left, min_border_right=(40 if left == 83 else 3),
               min_border_top=top, min_border_bottom=bottom,
               output_backend="svg", toolbar_location=None)
    p.grid.visible = False
    p.background_fill_color = "white"
    p.outline_line_color = ink
    p.outline_line_width = 1.7

    p.scatter([10 ** a for a, _ in red], [b for _, b in red], size=7, color="#ff0000", line_color=None)
    p.patch([10 ** a for a, _ in core], [b for _, b in core], color="black", line_color="black", line_width=4, line_join="round")
    p.scatter([10 ** a for a, _ in edge + black], [b for _, b in edge + black], size=7, color="black", line_color=None)

    majors = [t for t in exponent_labels if first <= t <= last]
    xa = p.xaxis[0]
    xa.ticker = FixedTicker(ticks=majors, minor_ticks=minor_counts(first, last))
    xa.major_label_overrides = {t: exponent_labels[t] for t in majors}
    ya = p.yaxis[0]
    ya.ticker = FixedTicker(ticks=[t for t in yticks if t % 2 == 0], minor_ticks=[t for t in yticks if t % 2])
    ya.major_label_overrides = {t: str(t) for t in yticks if t % 2 == 0}
    for ax in (xa, ya):
        ax.axis_line_color = ink
        ax.axis_line_width = 1.4
        ax.major_tick_line_color = ink
        ax.minor_tick_line_color = ink
        ax.major_tick_line_width = 1.3
        ax.minor_tick_line_width = 1.3
        ax.major_tick_in = 0
        ax.minor_tick_in = 0
        ax.major_label_text_font = font
        ax.major_label_text_color = "#111111"
        ax.axis_label_text_font = font
        ax.axis_label_text_font_style = "bold"
        ax.axis_label_text_font_size = "15.4px"
        ax.axis_label_text_color = "black"
    xa.major_tick_out = 11
    xa.minor_tick_out = 7
    xa.major_label_text_font_size = "16.5px"
    xa.major_label_standoff = 6
    xa.axis_label = x_title
    xa.axis_label_standoff = x_standoff
    ya.major_tick_out = 9
    ya.minor_tick_out = 7
    ya.major_label_text_font_size = "15px"
    ya.major_label_standoff = 8
    ya.axis_label = y_title
    ya.axis_label_standoff = y_standoff

    p.add_layout(Label(x=tag_x, y=tag_y, x_units="screen", y_units="screen", text=tag, text_font=font,
                       text_font_style="italic", text_font_size="44px", text_color="black",
                       text_baseline="alphabetic"))
    return p


def side(height, entries):
    s = figure(width=246, height=height, x_range=Range1d(0, 1), y_range=Range1d(0, 1),
               x_axis_location=None, y_axis_location=None, min_border=0,
               output_backend="svg", toolbar_location=None)
    s.grid.visible = False
    s.outline_line_color = None
    for text, x, y, size, style in entries:
        s.add_layout(Label(x=x, y=y, x_units="screen", y_units="screen", text=text, text_font=font,
                           text_font_style=style, text_font_size=size, text_color="black",
                           text_baseline="alphabetic"))
    return s


p1 = panel(gp91_mu_core, gp91_mu_edge, gp91_mu_black, gp91_mu_red, (1.394, 5.151), (-9.1, 2.377), list(range(-9, 3)), 30, 100000, 83, 8, 94, "Mu", 283, 40, 13, 24)
p2 = panel(gp91_tn5_core, gp91_tn5_edge, gp91_tn5_black, gp91_tn5_red, (1.364, 5.18), (-9.12, 7.78), list(range(-9, 8)), 30, 100000, 76, 8, 94, "Tn5", 264, 41, 13, 23)
p3 = panel(c57_mu_core, c57_mu_edge, c57_mu_black, c57_mu_red, (-0.598, 4.942), (-8.33, 3.96), list(range(-8, 4)), 20, 90000, 83, 10, 90, "Mu", 283, 46, 10, 24)
p4 = panel(c57_tn5_core, c57_tn5_edge, c57_tn5_black, c57_tn5_red, (-0.857, 4.871), (-8.615, 5.95), list(range(-8, 6)), 20, 70000, 76, 10, 90, "Tn5", 264, 46, 10, 23)
p5 = panel(balb_mu_core, balb_mu_edge, balb_mu_black, balb_mu_red, (1.375, 5.129), (-9.72, 3.425), list(range(-9, 4)), 30, 100000, 83, 11, 66, "Mu", 285, 41, 13, 24)
p6 = panel(balb_tn5_core, balb_tn5_edge, balb_tn5_black, balb_tn5_red, (1.379, 5.295), (-10.08, 3.18), list(range(-9, 4)), 30, 200000, 76, 11, 66, "Tn5", 267, 41, 13, 23)

s1 = side(488, [("gp91", 14, 220, "43px", "italic"), ("-/-", 111, 233, "26px", "italic"), ("phox", 146, 220, "43px", "italic")])
s2 = side(486, [("C57BL/6", 13, 200, "43px", "normal")])
s3 = side(463, [("BALB/c", 13, 205, "43px", "normal")])

page = column(row(p1, p2, s1, spacing=0), row(p3, p4, s2, spacing=0), row(p5, p6, s3, spacing=0), spacing=0)
open("out.html", "w").write(file_html(page, INLINE))
